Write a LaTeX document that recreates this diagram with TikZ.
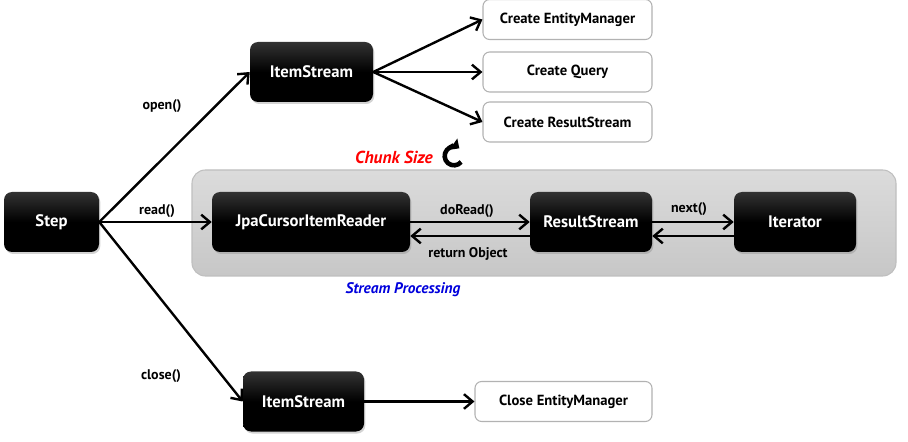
\documentclass[tikz,border=0pt]{standalone}
\usepackage{fontspec}
\setmainfont{PT Sans}
\usetikzlibrary{arrows.meta,shadows,calc}
\tikzset{
  blk/.style={rounded corners=6pt, top color=black!80, bottom color=black, middle color=black,
    draw=none, text=white, font=\bfseries\fontsize{12.5}{14}\selectfont,
    drop shadow={shadow xshift=1pt, shadow yshift=-1.5pt, opacity=0.35},
    minimum height=60*0.75pt, inner sep=0pt},
  wbox/.style={rounded corners=5pt, draw=black!30, fill=white, line width=0.8pt,
    font=\bfseries\fontsize{11}{12}\selectfont, minimum height=40*0.75pt, inner sep=0pt},
  lbl/.style={font=\bfseries\fontsize{10.5}{12}\selectfont},
  arr/.style={line width=1.8pt, -{Straight Barb[length=6.5pt,width=11pt,line width=1.8pt]}},
}
\begin{document}
\begin{tikzpicture}[x=0.75pt,y=-0.75pt]
\useasboundingbox (0,0) rectangle (908,442);
% gray panel
\draw[rounded corners=10pt, draw=black!25, line width=0.8pt, top color=black!14, bottom color=black!22]
  (192,170) rectangle (896,276);
% nodes
\node[blk, minimum width=95*0.75pt] (step) at (51.5,222) {Step};
\node[blk, minimum width=123*0.75pt] (is1) at (311.5,72) {ItemStream};
\node[blk, minimum width=121*0.75pt] (is2) at (303.5,401.5) {ItemStream};
\node[blk, minimum width=198*0.75pt] (jpa) at (311,222) {JpaCursorItemReader};
\node[blk, minimum width=122*0.75pt] (rs) at (591,222) {ResultStream};
\node[blk, minimum width=122*0.75pt] (it) at (795,222) {Iterator};
\node[wbox, minimum width=169*0.75pt] (cem) at (567.5,19.5) {Create EntityManager};
\node[wbox, minimum width=169*0.75pt] (cq) at (567.5,72) {Create Query};
\node[wbox, minimum width=169*0.75pt] (crs) at (567.5,122) {Create ResultStream};
\node[wbox, minimum width=177*0.75pt] (clem) at (563.5,401.5) {Close EntityManager};
% labels
\node[lbl] (lopen) at (162,106) {open()};
\node[lbl] (lread) at (157,211) {read()};
\node[lbl] (lclose) at (161,376) {close()};
\node[lbl] (ldo) at (467,211) {doRead()};
\node[lbl] (lret) at (468,254) {return Object};
\node[lbl] (lnext) at (689,209) {next()};
\node[font=\bfseries\itshape\fontsize{13}{14}\selectfont, text={rgb,255:red,255;green,0;blue,0}] (chunk) at (394,157) {Chunk Size};
\node[font=\bfseries\itshape\fontsize{11.5}{12}\selectfont, text={rgb,255:red,0;green,0;blue,220}] (sp) at (403,290) {Stream Processing};
% refresh icon
\coordinate (ic) at (454,156);
\begin{scope}[shift={(ic)}, x=1pt, y=1pt]
  \draw[line width=3.4pt, -{Triangle[length=5.5pt,width=10pt]}] (-40:7pt) arc[start angle=-40, end angle=-305, radius=7pt];
\end{scope}
% connectors
\draw[arr] (step.east) -- (is1.west);
\draw[arr] (step.east) -- (jpa.west);
\draw[arr] (step.east) -- (is2.west);
\draw[arr] (is1.east) -- (cem.west);
\draw[arr] (is1.east) -- (cq.west);
\draw[arr] (is1.east) -- (crs.west);
\draw[arr] (is2.east) -- (clem.west);
\draw[arr] (jpa.east) -- (rs.west);
\draw[arr] ($(rs.west)+(0,14)$) -- ($(jpa.east)+(0,14)$);
\draw[arr] (rs.east) -- (it.west);
\draw[arr] ($(it.west)+(0,14)$) -- ($(rs.east)+(0,14)$);
\end{tikzpicture}
\end{document}
